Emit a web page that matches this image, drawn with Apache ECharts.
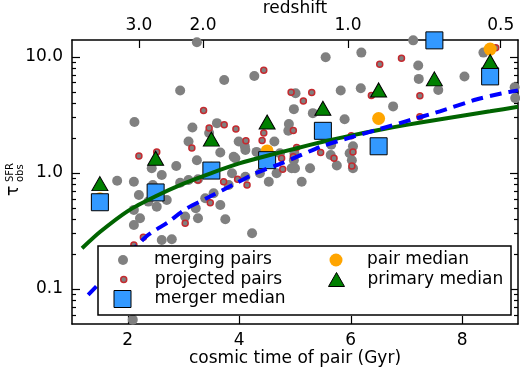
<!DOCTYPE html>
<html><head><meta charset="utf-8">
<script src="https://cdn.jsdelivr.net/npm/echarts@6/dist/echarts.min.js"></script>
<style>html,body{margin:0;padding:0;background:#fff}#c{width:520px;height:368px}</style>
</head><body><div id="c"></div>
<script>
// ---- data (cosmic time in Gyr, tau) ----
const mergingPairs = [
 [3.24,13.4],[2.12,2.75],[2.94,5.14],[3.73,6.34],[4.27,6.86],[3.16,2.47],[3.60,2.69],[3.46,2.21],
 [3.09,1.87],[3.99,1.87],[4.10,1.70],[4.63,1.87],[4.89,2.64],[4.88,2.31],[4.98,3.55],[5.01,4.87],
 [7.12,13.9],[5.55,9.94],[6.19,10.9],[7.21,8.44],[7.22,6.47],[8.04,6.78],[7.57,5.20],[8.38,10.9],
 [8.94,5.49],[8.95,4.42],[5.32,3.28],[5.82,5.14],[6.18,5.38],[6.76,3.75],[5.89,2.91],[5.65,1.75],
 [6.04,1.70],[4.73,1.48],[4.98,1.29],[5.00,1.10],[5.27,1.10],[5.75,1.16],[5.64,1.43],[6.02,1.29],
 [5.12,0.842],[6.04,1.10],[5.98,1.48],[3.66,1.50],[3.90,1.38],[4.11,1.58],[1.81,0.859],[2.11,0.842],
 [2.45,0.788],[2.61,0.961],[2.87,1.15],[2.20,0.647],[2.70,0.586],[2.94,0.825],[3.09,0.871],[3.26,0.883],
 [3.24,1.29],[2.43,1.10],[3.87,0.994],[3.81,0.788],[4.11,0.929],[4.37,0.994],[4.53,0.842],[4.67,0.994],
 [4.94,1.10],[4.99,1.48],[3.54,0.669],[3.39,0.606],[3.66,0.531],[3.22,0.497],[3.26,0.408],[3.03,0.421],
 [3.75,0.400],[4.23,0.303],[2.11,0.481],[2.22,0.408],[2.11,0.357],[2.61,0.265],[2.79,0.269],[2.52,0.513],
 [2.37,0.567],[3.93,1.34],[2.09,0.0545],[4.31,1.52]
];
const projectedPairs = [
 [4.44,7.68],[3.36,3.46],[3.46,2.44],[3.73,2.60],[3.94,2.39],[4.12,1.90],[4.44,2.21],[4.41,1.91],
 [4.93,4.97],[4.97,2.33],[3.15,1.64],[6.52,8.65],[6.91,9.74],[5.30,4.94],[5.15,4.18],[6.37,4.66],
 [7.24,4.64],[7.24,3.06],[6.01,2.09],[8.60,12.0],[2.20,1.40],[2.52,1.52],[3.26,0.871],[3.72,0.842],
 [3.97,0.883],[4.14,0.788],[4.78,1.08],[4.97,1.38],[3.48,0.555],[3.03,0.369],[2.28,0.280],[2.11,0.240],
 [5.46,1.50],[5.70,1.34],[6.04,1.52],[6.02,1.15],[5.03,1.66],[4.76,1.34]
];
const medianTimes   = [1.5, 2.5, 3.5, 4.5, 5.5, 6.5, 7.5, 8.5];
const mergerMedian  = [0.56, 0.68, 1.05, 1.29, 2.31, 1.70, 13.9, 6.8];
const pairMedian    = [0.60, 0.68, 1.10, 1.55, 2.30, 2.95, null, 11.7];
const primaryMedian = [0.81, 1.34, 1.96, 2.75, 3.62, 5.2, 6.47, 9.13];
const greenCurveX = [1.18, 1.5, 2.0, 2.5, 3.0, 3.5, 4.0, 4.5, 5.0, 5.5, 6.0, 6.5, 7.0, 7.5, 8.0, 8.5, 9.0];
const greenCurveY = [0.225, 0.31, 0.47, 0.63, 0.81, 1.0, 1.21, 1.41, 1.62, 1.86, 2.10, 2.35, 2.60, 2.85, 3.12, 3.40, 3.72];
const blueCurveX = [1.29, 2.33, 2.73, 3.04, 3.44, 3.94, 4.29, 4.79, 5.48, 6.0, 6.5, 7.0, 7.6, 8.25, 8.7, 9.0];
const blueCurveY = [0.089, 0.283, 0.379, 0.49, 0.615, 0.815, 0.994, 1.23, 1.70, 2.03, 2.38, 2.80, 3.40, 4.30, 4.85, 5.15];
const xTicks = [2, 4, 6, 8];
const yTicks = [0.1, 1, 10];
const yTickLabels = ['0.1', '1.0', '10.0'];
const yMinorTicks = [0.06,0.07,0.08,0.09,0.2,0.3,0.4,0.5,0.6,0.7,0.8,0.9,2,3,4,5,6,7,8,9];
const redshiftTimes = [2.20, 3.35, 5.95, 8.69];
const redshiftLabels = ['3.0', '2.0', '1.0', '0.5'];

// ---- build ----
const FONT = 'DejaVu Sans';
const pairs = (xs, ys) => xs.map((x, i) => [x, ys[i]]).filter(p => p[1] != null);
const nearestLabel = (v, pos, labels) => {
  let b = 0; pos.forEach((p, i) => { if (Math.abs(p - v) < Math.abs(pos[b] - v)) b = i; });
  return labels[b];
};
const axLine = {show: true, onZero: false, lineStyle: {color: '#000', width: 1.5}};
const tickStyle = {color: '#000', width: 1.2};
const yBase = {type: 'log', logBase: 10, min: 0.05, max: 14, splitLine: {show: false}, minorTick: {show: false}, minorSplitLine: {show: false}};

function leg(name, cx, cy, size, textStart, extra) {
  const w = Array.isArray(size) ? size[0] : size;
  const h = Array.isArray(size) ? size[1] : size;
  return Object.assign({
    data: [name], left: cx - w / 2, top: cy - 9, itemWidth: w, itemHeight: h,
    padding: 0, selectedMode: false, z: 20, symbolKeepAspect: false,
    textStyle: {fontFamily: FONT, fontSize: 17, color: '#000', lineHeight: 18,
      padding: [0, 0, 0, textStart - (cx + w / 2 + 5)]}
  }, extra || {});
}

const chart = echarts.init(document.getElementById('c'), null, {renderer: 'canvas'});
chart.setOption({
  animation: false,
  backgroundColor: '#fff',
  grid: {left: 72, top: 40, right: 2, bottom: 44, containLabel: false, outerBoundsMode: 'none'},
  xAxis: [
    {type: 'value', min: 1, max: 9, position: 'bottom', axisLine: axLine,
     axisTick: {show: true, inside: true, length: 8, customValues: xTicks, lineStyle: tickStyle},
     axisLabel: {customValues: xTicks, fontFamily: FONT, fontSize: 17, color: '#000', margin: 8},
     splitLine: {show: false},
     name: 'cosmic time of pair (Gyr)', nameLocation: 'middle', nameGap: 26, nameMoveOverlap: false,
     nameTextStyle: {fontFamily: FONT, fontSize: 17, color: '#000'}},
    {type: 'value', min: 1, max: 9, position: 'top', axisLine: axLine,
     axisTick: {show: true, inside: true, length: 8, customValues: redshiftTimes, lineStyle: tickStyle},
     axisLabel: {customValues: redshiftTimes, fontFamily: FONT, fontSize: 17, color: '#000', margin: 6,
       formatter: v => nearestLabel(v, redshiftTimes, redshiftLabels)},
     splitLine: {show: false},
     name: 'redshift', nameLocation: 'middle', nameGap: 23, nameMoveOverlap: false,
     nameTextStyle: {fontFamily: FONT, fontSize: 17, color: '#000'}}
  ],
  yAxis: [
    Object.assign({}, yBase, {position: 'left', axisLine: axLine,
      axisTick: {show: true, inside: true, length: 8, customValues: yTicks, lineStyle: tickStyle},
      axisLabel: {customValues: yTicks, fontFamily: FONT, fontSize: 17, color: '#000', margin: 9,
        formatter: v => nearestLabel(Math.log10(v), yTicks.map(Math.log10), yTickLabels)}}),
    Object.assign({}, yBase, {position: 'left', axisLine: {show: false},
      axisTick: {show: true, inside: true, length: 4, customValues: yMinorTicks, lineStyle: tickStyle},
      axisLabel: {show: false}}),
    Object.assign({}, yBase, {position: 'right', axisLine: axLine,
      axisTick: {show: true, inside: true, length: 8, customValues: yTicks, lineStyle: tickStyle},
      axisLabel: {show: false}}),
    Object.assign({}, yBase, {position: 'right', axisLine: {show: false},
      axisTick: {show: true, inside: true, length: 4, customValues: yMinorTicks, lineStyle: tickStyle},
      axisLabel: {show: false}})
  ],
  legend: [
    leg('merging pairs', 123, 260, 10, 154, {itemStyle: {borderWidth: 0}}),
    leg('projected pairs', 123, 279.5, 6, 154, {itemStyle: {borderWidth: 1.5, borderColor: '#c42a2f'}}),
    leg('merger median', 122, 299, 17, 154, {itemStyle: {borderWidth: 1, borderColor: '#000'}}),
    leg('pair median', 336, 260, 13, 367, {itemStyle: {borderWidth: 0}}),
    leg('primary median', 336, 279.5, [16, 14], 367, {itemStyle: {borderWidth: 1, borderColor: '#000'}})
  ],
  series: [
    {name: 'merging pairs', type: 'scatter', data: mergingPairs, symbol: 'circle', symbolSize: 10,
     itemStyle: {color: '#808080', opacity: 1}},
    {name: 'projected pairs', type: 'scatter', data: projectedPairs, symbol: 'circle', symbolSize: 6,
     itemStyle: {color: '#808080', borderColor: '#c42a2f', borderWidth: 1.5, opacity: 1}},
    {name: 'fit_green', type: 'line', data: pairs(greenCurveX, greenCurveY), showSymbol: false, symbol: 'none',
     smooth: 0.2, silent: true, lineStyle: {color: '#006400', width: 4}},
    {name: 'fit_blue', type: 'line', data: pairs(blueCurveX, blueCurveY), showSymbol: false, symbol: 'none',
     smooth: 0.2, silent: true, lineStyle: {color: '#0000ff', width: 4, type: [12, 7]}},
    {name: 'pair median', type: 'scatter', data: pairs(medianTimes, pairMedian), symbol: 'circle', symbolSize: 13,
     itemStyle: {color: '#ffa500', opacity: 1}},
    {name: 'merger median', type: 'scatter', data: pairs(medianTimes, mergerMedian), symbol: 'rect', symbolSize: 17,
     itemStyle: {color: '#3399ff', borderColor: '#000', borderWidth: 1, opacity: 1}},
    {name: 'primary median', type: 'scatter', data: pairs(medianTimes, primaryMedian), symbol: 'triangle', symbolSize: [16, 14],
     itemStyle: {color: '#008000', borderColor: '#000', borderWidth: 1, opacity: 1}}
  ],
  graphic: [
    {type: 'rect', z: 10, shape: {x: 98, y: 246, width: 413, height: 69},
     style: {fill: '#fff', stroke: '#000', lineWidth: 1.5}},
    {type: 'group', x: 15, y: 179, rotation: Math.PI / 2, z: 10, children: [
      {type: 'text', x: -17, y: -1, style: {text: 'τ', font: '17px "DejaVu Sans"', fill: '#000',
        align: 'left', verticalAlign: 'middle', textAlign: 'left', textVerticalAlign: 'middle'}},
      {type: 'text', x: -3, y: -5, style: {text: 'SFR', font: '10px "DejaVu Sans"', fill: '#000',
        align: 'left', verticalAlign: 'middle', textAlign: 'left', textVerticalAlign: 'middle'}},
      {type: 'text', x: -3, y: 5, style: {text: 'obs', font: '10px "DejaVu Sans"', fill: '#000',
        align: 'left', verticalAlign: 'middle', textAlign: 'left', textVerticalAlign: 'middle'}}
    ]}
  ]
});
</script></body></html>
